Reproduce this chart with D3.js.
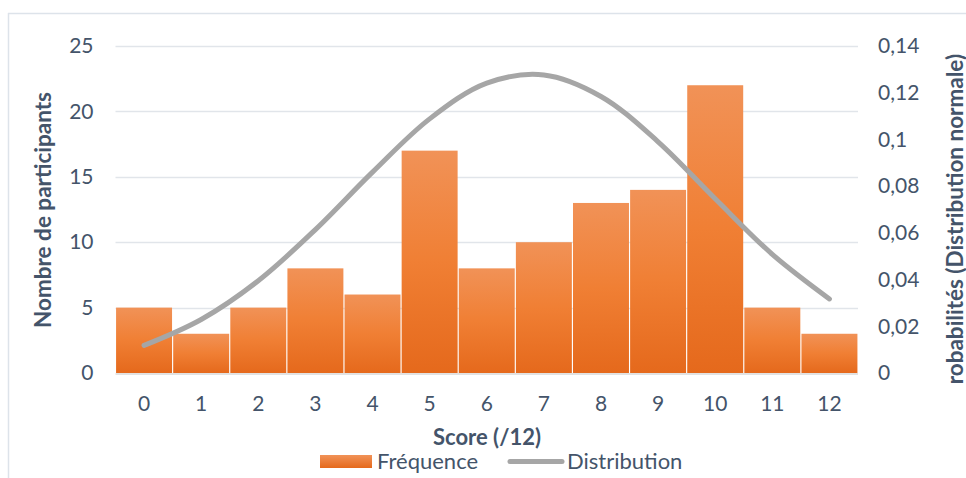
<!DOCTYPE html>
<html><head><meta charset="utf-8">
<script src="https://cdn.jsdelivr.net/npm/d3@7"></script>
<style>body{margin:0;background:#fff}svg{display:block}text{font-family:Lato,"Open Sans",sans-serif}</style>
</head><body><svg id="c" width="966" height="478"></svg>
<script>
const categories = ["0","1","2","3","4","5","6","7","8","9","10","11","12"];
const frequence = [5,3,5,8,6,17,8,10,13,14,22,5,3];
const distribution = [0.0118,0.0229,0.0395,0.0614,0.0860,0.1088,0.1241,0.1276,0.1184,0.0990,0.0746,0.0508,0.0317];
const leftTicks = [0,5,10,15,20,25];
const rightTicks = [0,0.02,0.04,0.06,0.08,0.1,0.12,0.14];

const svg = d3.select("#c");
const textColor = "#44546a";
const X0 = 115.5, X1 = 858, Y0 = 373, Y1 = 46;
const tickFs = 21, titleFs = 22.5;

// outer frame lines
svg.append("line").attr("x1",8.5).attr("x2",8.5).attr("y1",13).attr("y2",478).attr("stroke","#dde3ea").attr("stroke-width",1.5);
svg.append("line").attr("x1",8).attr("x2",966).attr("y1",13.5).attr("y2",13.5).attr("stroke","#dde3ea").attr("stroke-width",1.5);

const x = d3.scaleBand().domain(categories).range([X0,X1]).paddingInner(0.02).paddingOuter(0.01);
const yL = d3.scaleLinear().domain([0,25]).range([Y0,Y1]);
const yR = d3.scaleLinear().domain([0,0.14]).range([Y0,Y1]);

const defs = svg.append("defs");
const g = defs.append("linearGradient").attr("id","bg").attr("x1",0).attr("y1",0).attr("x2",0).attr("y2",1);
g.append("stop").attr("offset","0%").attr("stop-color","#f19257");
g.append("stop").attr("offset","50%").attr("stop-color","#f07f34");
g.append("stop").attr("offset","100%").attr("stop-color","#e5691c");
defs.append("clipPath").attr("id","rc").append("rect").attr("x",900).attr("y",0).attr("width",66).attr("height",384);
const lg = defs.append("linearGradient").attr("id","lgb").attr("x1",0).attr("y1",0).attr("x2",0).attr("y2",1);
lg.append("stop").attr("offset","0%").attr("stop-color","#f19257");
lg.append("stop").attr("offset","100%").attr("stop-color","#e5691c");

// gridlines
svg.append("g").selectAll("line").data(leftTicks.slice(1)).join("line")
  .attr("x1",X0).attr("x2",X1).attr("y1",d=>Math.round(yL(d))+0.5).attr("y2",d=>Math.round(yL(d))+0.5)
  .attr("stroke","#e1e5ea").attr("stroke-width",1.5);

// bars
svg.append("g").selectAll("rect").data(frequence).join("rect")
  .attr("x",(d,i)=>x(categories[i])).attr("width",x.bandwidth())
  .attr("y",d=>yL(d)).attr("height",d=>Y0-yL(d)).attr("fill","url(#bg)");

// baseline
svg.append("line").attr("x1",X0).attr("x2",X1).attr("y1",Y0+1).attr("y2",Y0+1).attr("stroke","#d9d9d9").attr("stroke-width",1.5);

// distribution line
const line = d3.line().x((d,i)=>x(categories[i])+x.bandwidth()/2).y(d=>yR(d)).curve(d3.curveCatmullRom.alpha(0.5));
svg.append("path").datum(distribution).attr("d",line).attr("fill","none")
  .attr("stroke","#a6a6a6").attr("stroke-width",5).attr("stroke-linecap","round");

// left axis
const axL = svg.append("g").attr("transform",`translate(${X0},0)`)
  .call(d3.axisLeft(yL).tickValues(leftTicks).tickSize(0).tickPadding(22).tickFormat(d3.format("d")));
axL.select(".domain").remove();
axL.selectAll("text").attr("fill",textColor).attr("font-size",tickFs);

// right axis
const fr = d => d===0 ? "0" : String(+d.toFixed(2)).replace(".",",");
const axR = svg.append("g").attr("transform",`translate(${X1},0)`)
  .call(d3.axisRight(yR).tickValues(rightTicks).tickSize(0).tickPadding(20).tickFormat(fr));
axR.select(".domain").remove();
axR.selectAll("text").attr("fill",textColor).attr("font-size",tickFs);

// bottom axis
const axB = svg.append("g").attr("transform",`translate(0,${Y0})`)
  .call(d3.axisBottom(x).tickSize(0).tickPadding(23));
axB.select(".domain").remove();
axB.selectAll("text").attr("fill",textColor).attr("font-size",tickFs);

// axis titles
svg.append("text").attr("transform","translate(51,210) rotate(-90)").attr("text-anchor","middle")
  .attr("fill",textColor).attr("font-weight","bold").attr("font-size",titleFs).text("Nombre de participants");
svg.append("g").attr("clip-path","url(#rc)").append("text")
  .attr("transform","translate(963,226) rotate(-90)").attr("text-anchor","middle")
  .attr("fill",textColor).attr("font-weight","bold").attr("font-size",titleFs).text("Probabilités (Distribution normale)");
svg.append("text").attr("x",487).attr("y",445).attr("text-anchor","middle")
  .attr("fill",textColor).attr("font-weight","bold").attr("font-size",22).text("Score (/12)");

// legend
const leg = svg.append("g");
leg.append("rect").attr("x",320).attr("y",455).attr("width",52).attr("height",13).attr("fill","url(#lgb)");
leg.append("text").attr("x",377).attr("y",469).attr("fill",textColor).attr("font-size",titleFs-0.5).text("Fréquence");
leg.append("line").attr("x1",510).attr("x2",562).attr("y1",461.5).attr("y2",461.5).attr("stroke","#a6a6a6").attr("stroke-width",5).attr("stroke-linecap","round");
leg.append("text").attr("x",567).attr("y",469).attr("fill",textColor).attr("font-size",titleFs-0.5).text("Distribution");
</script></body></html>
